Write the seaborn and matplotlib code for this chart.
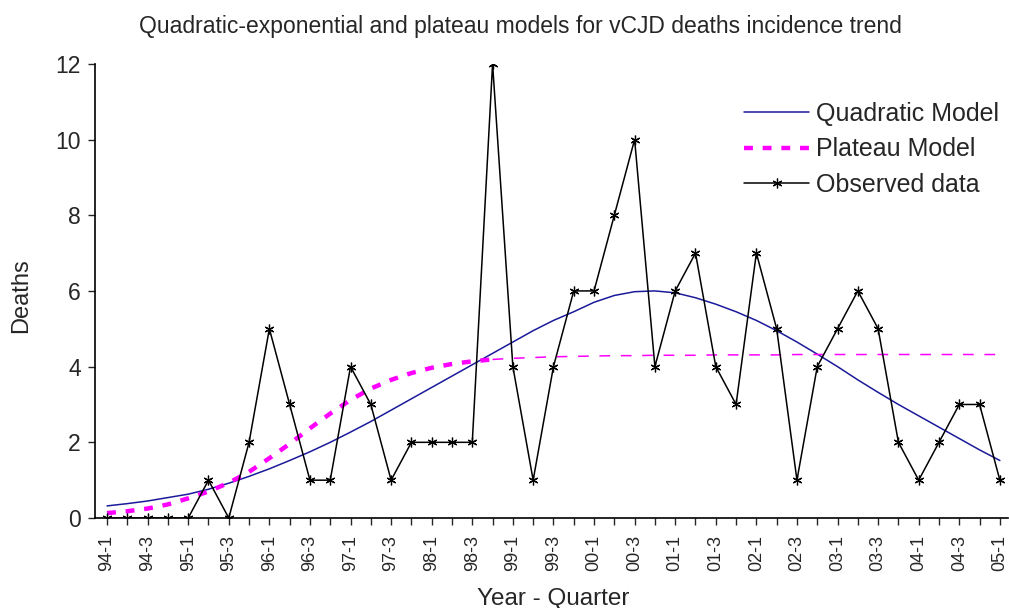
import numpy as np
import pandas as pd
import matplotlib
matplotlib.use("Agg")
import matplotlib.pyplot as plt
import seaborn as sns

years = ["94", "95", "96", "97", "98", "99", "00", "01", "02", "03", "04", "05"]
quarters = [f"{y}-{q}" for y in years for q in (1, 2, 3, 4)][:45]

observed = [0, 0, 0, 0, 0, 1, 0, 2, 5, 3, 1, 1, 4, 3, 1, 2, 2, 2, 2, 12,
            4, 1, 4, 6, 6, 8, 10, 4, 6, 7, 4, 3, 7, 5, 1, 4, 5, 6, 5, 2,
            1, 2, 3, 3, 1]
quadratic = [0.32, 0.38, 0.45, 0.54, 0.63, 0.76, 0.92, 1.10, 1.30, 1.52,
             1.75, 2.00, 2.27, 2.55, 2.85, 3.15, 3.45, 3.75, 4.05, 4.35,
             4.65, 4.95, 5.22, 5.45, 5.70, 5.88, 5.98, 6.00, 5.95, 5.82,
             5.65, 5.45, 5.22, 4.95, 4.65, 4.33, 4.00, 3.65, 3.32, 3.00,
             2.70, 2.40, 2.10, 1.80, 1.52]
plateau = [0.13, 0.18, 0.25, 0.36, 0.52, 0.70, 0.93, 1.22, 1.58, 1.96,
           2.37, 2.76, 3.12, 3.42, 3.65, 3.83, 3.97, 4.07, 4.14, 4.19,
           4.22, 4.24, 4.26, 4.27, 4.28, 4.29, 4.29, 4.30, 4.30, 4.30,
           4.31, 4.31, 4.31, 4.31, 4.32, 4.32, 4.32, 4.32, 4.32, 4.32,
           4.32, 4.32, 4.32, 4.32, 4.32]

df = pd.DataFrame({"idx": np.arange(len(quarters)), "quarter": quarters,
                   "observed": observed, "quadratic": quadratic,
                   "plateau": plateau})

sns.set_style("ticks")
plt.rcParams["font.family"] = ["Liberation Sans", "DejaVu Sans"]

fig = plt.figure(figsize=(10.09, 6.08), dpi=100)
ax = fig.add_axes([0.094, 0.148, 0.905, 0.747])

sns.lineplot(data=df, x="idx", y="quadratic", ax=ax, color="#1a1a9a",
             linewidth=1.1, label="Quadratic Model")
# plateau curve: thick dashes while rising, thin dashes once flat
early = df[df["idx"] <= 19]
late = df[df["idx"] >= 19]
sns.lineplot(data=early, x="idx", y="plateau", ax=ax, color="#ff00ff",
             linewidth=3.2, label="Plateau Model")
ax.lines[-1].set_linestyle((0, (2, 2.2)))
sns.lineplot(data=late, x="idx", y="plateau", ax=ax, color="#ff00ff",
             linewidth=1.1, legend=False)
ax.lines[-1].set_linestyle((0, (7, 7)))
sns.lineplot(data=df, x="idx", y="observed", ax=ax, color="black",
             linewidth=1.1, marker=(6, 2, 0), markersize=7,
             markeredgewidth=0.9, markeredgecolor="black",
             label="Observed data")

ax.set_xlim(-0.6, 44.4)
ax.set_ylim(0, 12)
ax.set_yticks(range(0, 13, 2))
ax.set_xticks(df["idx"][::2])
ax.set_xticklabels(df["quarter"][::2], rotation=90, fontsize=13)
ax.set_xticks(df["idx"], minor=True)
ax.tick_params(axis="y", labelsize=16.5, length=5, width=1, pad=5)
ax.tick_params(axis="x", which="both", length=5, width=1, pad=7)
for s in ["top", "right"]:
    ax.spines[s].set_visible(False)
for s in ["left", "bottom"]:
    ax.spines[s].set_color("black")
    ax.spines[s].set_linewidth(1.2)

ax.set_xlabel("Year - Quarter", fontsize=17.5)
ax.xaxis.set_label_coords((553 - 95) / 913, -(599 - 518) / 454)
ax.xaxis.label.set_va("center")
ax.set_ylabel("Deaths", fontsize=17)
ax.yaxis.set_label_coords(-(95 - 21) / 913, (518 - 296) / 454)
ax.yaxis.label.set_va("center")

fig.text(0.516, 1 - 26 / 608,
         "Quadratic-exponential and plateau models for vCJD deaths incidence trend",
         fontsize=16.5, ha="center", va="center")

ax.legend(loc="upper left", bbox_to_anchor=(744 / 1009, 1 - 102 / 608),
          bbox_transform=fig.transFigure, frameon=False, fontsize=18,
          handlelength=2.6, handletextpad=0.3, labelspacing=0.45,
          borderaxespad=0, borderpad=0)

fig.savefig("out.png", dpi=100)
